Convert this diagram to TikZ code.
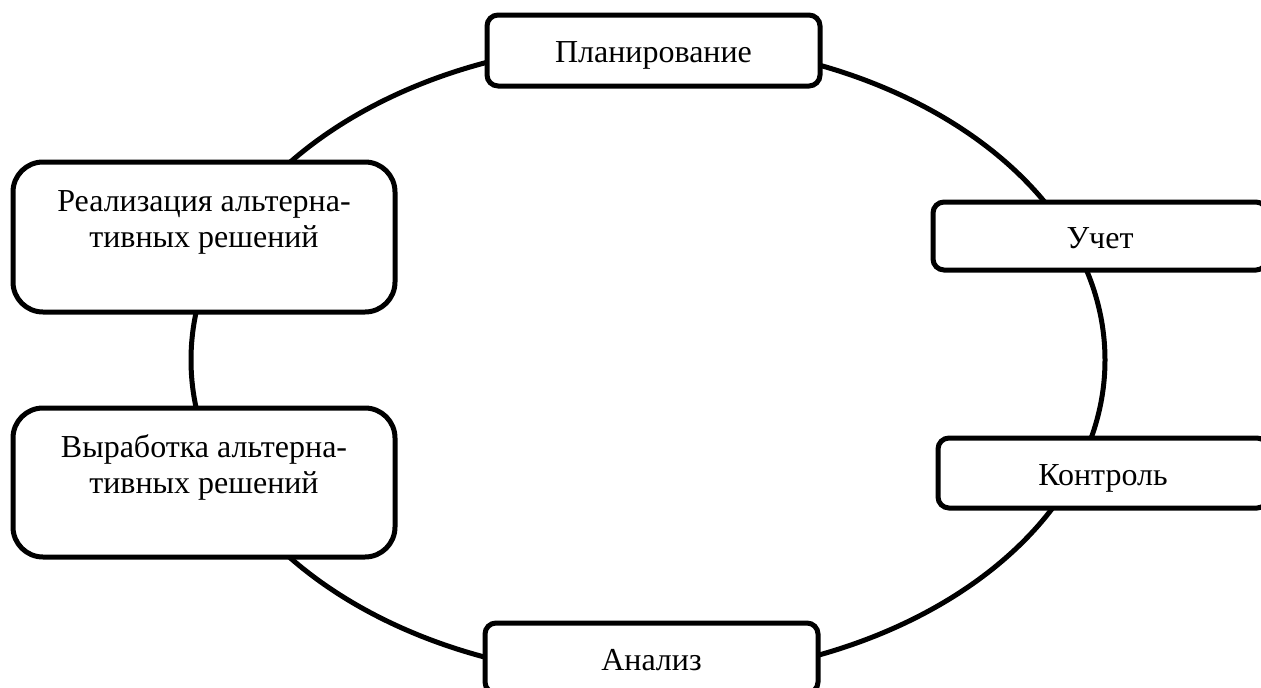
\documentclass[tikz,border=0pt]{standalone}
\usepackage{fontspec}
\setmainfont{Liberation Serif}
\begin{document}
\begin{tikzpicture}[x=1pt,y=-1pt,
  boxbase/.style={draw=black,line width=5pt,fill=white,
    inner sep=0pt,align=center,font=\fontsize{32}{36}\selectfont},
  stage/.style={boxbase,rounded corners=11pt,text height=24pt,text depth=0pt},
  bigstage/.style={boxbase,rounded corners=30pt}]
\useasboundingbox (0,0) rectangle (1261,688);
\coordinate (c) at (648,360);
\draw[line width=5pt] (c) ellipse [x radius=457, y radius=318];
\node[stage,minimum width=333pt,minimum height=71pt] (plan) at (653.5,50.5) {Планирование};
\node[bigstage,minimum width=382pt,minimum height=150pt] (real) at (204,237) {Реализация альтерна-\\тивных решений\\~};
\node[bigstage,minimum width=382pt,minimum height=149pt] (vyr) at (204,482.5) {Выработка альтерна-\\тивных решений\\~};
\node[stage,minimum width=334pt,minimum height=68pt] (uchet) at (1100,236) {Учет};
\node[stage,minimum width=330pt,minimum height=70pt] (kontrol) at (1103,473) {Контроль};
\node[stage,minimum width=333pt,minimum height=70pt] (analiz) at (651.5,658) {Анализ};
\end{tikzpicture}
\end{document}
